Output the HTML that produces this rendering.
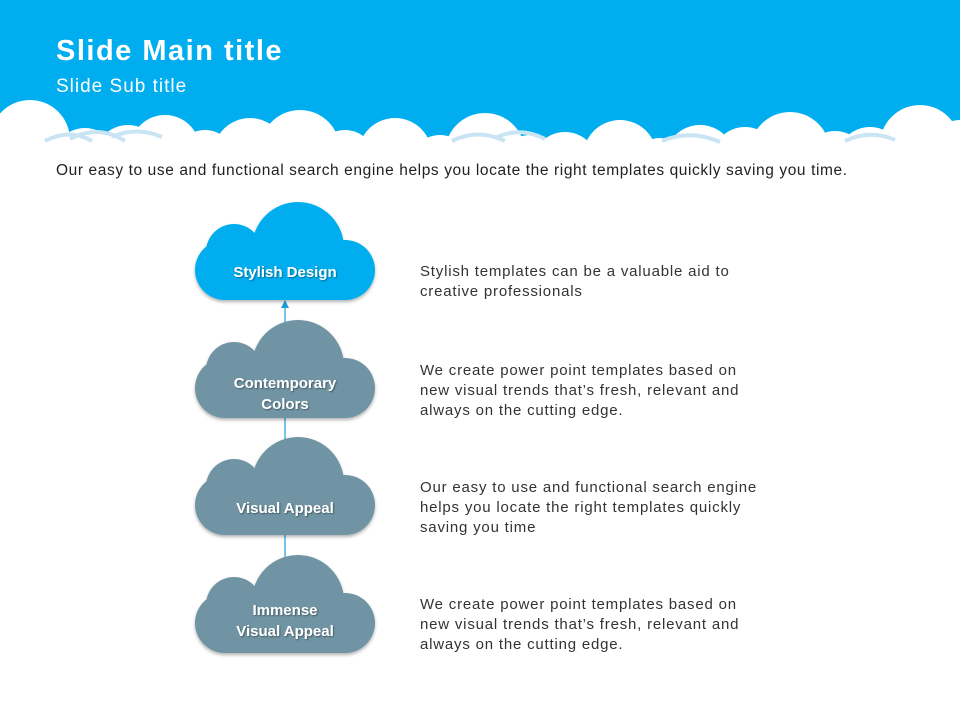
<!DOCTYPE html>
<html><head><meta charset="utf-8"><style>
body{margin:0;width:960px;height:720px;overflow:hidden;background:#fff;font-family:"Liberation Sans",sans-serif}
</style></head><body>
<svg width="960" height="720" xmlns="http://www.w3.org/2000/svg" style="position:absolute;left:0;top:0">
<defs>
<filter id="sh" x="-10%" y="-10%" width="120%" height="130%"><feDropShadow dx="0" dy="2" stdDeviation="1.5" flood-color="#000" flood-opacity="0.3"/></filter>
<filter id="ts"><feDropShadow dx="1" dy="1" stdDeviation="0.8" flood-color="#000" flood-opacity="0.4"/></filter>
<g id="cl"><rect x="195" y="240" width="180" height="60" rx="30"/><circle cx="234" cy="252" r="28"/><circle cx="298" cy="248" r="46"/></g>
</defs>
<rect x="0" y="0" width="960" height="145" fill="#00AEEF"/>
<g fill="#fff">
<circle cx="30" cy="140" r="40"/><circle cx="85" cy="160" r="32"/><circle cx="128" cy="158" r="33"/>
<circle cx="165" cy="150" r="35"/><circle cx="205" cy="160" r="30"/><circle cx="250" cy="155" r="37"/>
<circle cx="300" cy="150" r="40"/><circle cx="345" cy="160" r="30"/><circle cx="395" cy="155" r="37"/>
<circle cx="440" cy="165" r="30"/><circle cx="485" cy="153" r="40"/><circle cx="530" cy="165" r="30"/>
<circle cx="565" cy="165" r="33"/><circle cx="620" cy="157" r="37"/><circle cx="660" cy="168" r="30"/>
<circle cx="700" cy="160" r="35"/><circle cx="745" cy="160" r="33"/><circle cx="790" cy="152" r="40"/>
<circle cx="835" cy="163" r="32"/><circle cx="870" cy="160" r="33"/><circle cx="920" cy="145" r="40"/>
<circle cx="960" cy="150" r="30"/>
<rect x="0" y="145" width="960" height="40"/>
</g>
<g fill="none" stroke="#c9e4f3" stroke-width="4">
<path d="M45 141 Q70 128 92 141 M70 139 Q98 124 125 141 M112 137 Q137 126 162 137"/>
<path d="M452 141 Q478 128 505 141 M495 138 Q520 126 545 139"/>
<path d="M662 141 Q690 129 720 142"/><path d="M845 141 Q870 129 895 140"/>
</g>
<text x="56" y="60" font-size="29" font-weight="bold" fill="#fff" letter-spacing="1.5">Slide Main title</text>
<text x="56" y="92" font-size="19" fill="#fff" letter-spacing="1">Slide Sub title</text>
<text x="56" y="175" font-size="15.5" fill="#222" letter-spacing="0.6">Our easy to use and functional search engine helps you locate the right templates quickly saving you time.</text>
<line x1="285" y1="305" x2="285" y2="600" stroke="#1b9fd6" stroke-width="1.2"/>
<polygon points="281,308 289,308 285,300" fill="#1b9fd6"/>
<use href="#cl" fill="#00AEEF" filter="url(#sh)"/>
<use href="#cl" fill="#6f94a3" filter="url(#sh)" transform="translate(0,118)"/>
<use href="#cl" fill="#6f94a3" filter="url(#sh)" transform="translate(0,235)"/>
<use href="#cl" fill="#6f94a3" filter="url(#sh)" transform="translate(0,353)"/>
<g fill="#fff" font-size="15" font-weight="bold" text-anchor="middle" filter="url(#ts)">
<text x="285" y="277">Stylish Design</text>
<text x="285" y="388">Contemporary</text><text x="285" y="409">Colors</text>
<text x="285" y="513">Visual Appeal</text>
<text x="285" y="615">Immense</text><text x="285" y="636">Visual Appeal</text>
</g>
<g fill="#333" font-size="15" letter-spacing="0.8">
<text x="420" y="276">Stylish templates can be a valuable aid to</text>
<text x="420" y="296">creative professionals</text>
<text x="420" y="375">We create power point templates based on</text>
<text x="420" y="395">new visual trends that’s fresh, relevant and</text>
<text x="420" y="415">always on the cutting edge.</text>
<text x="420" y="492">Our easy to use and functional search engine</text>
<text x="420" y="512">helps you locate the right templates quickly</text>
<text x="420" y="532">saving you time</text>
<text x="420" y="609">We create power point templates based on</text>
<text x="420" y="629">new visual trends that’s fresh, relevant and</text>
<text x="420" y="649">always on the cutting edge.</text>
</g>
</svg>
</body></html>
